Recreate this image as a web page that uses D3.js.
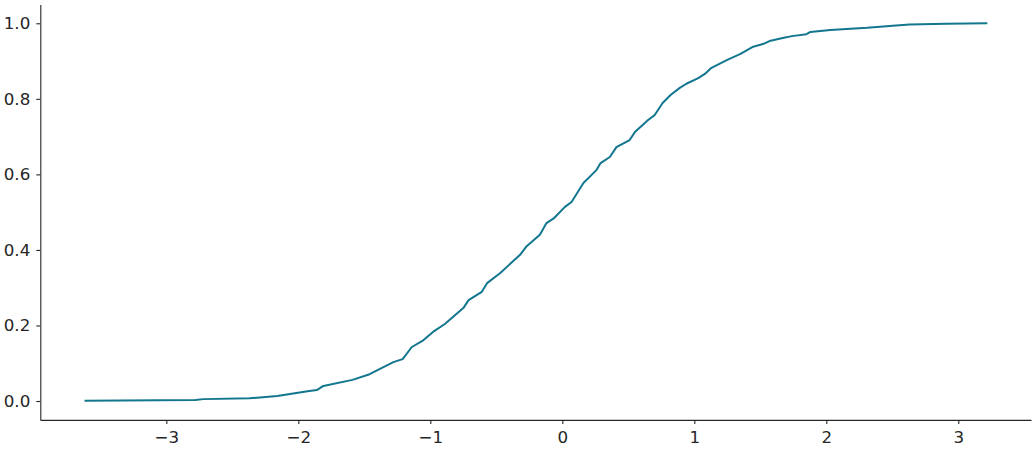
<!DOCTYPE html>
<html>
<head>
<meta charset="utf-8">
<script src="https://cdn.jsdelivr.net/npm/d3@7"></script>
<style>
  html, body { margin: 0; padding: 0; background: #ffffff; }
  svg { display: block; }
  .tick text { font-family: "DejaVu Sans", sans-serif; font-size: 16.7px; fill: #262626; }
</style>
</head>
<body>
<svg id="chart" width="1035" height="450"></svg>
<script>
// ECDF knots (value, cumulative proportion)
const sampleValues = [-3.62, -2.78, -2.72, -2.37, -2.16, -1.93, -1.86, -1.81, -1.59, -1.46,
  -1.28, -1.21, -1.14, -1.06, -0.98, -0.89, -0.75, -0.71, -0.61, -0.57,
  -0.47, -0.38, -0.32, -0.27, -0.17, -0.12, -0.06, 0.02, 0.07, 0.16,
  0.26, 0.29, 0.36, 0.41, 0.51, 0.55, 0.65, 0.70, 0.76, 0.82,
  0.89, 0.94, 1.03, 1.08, 1.13, 1.25, 1.35, 1.44, 1.52, 1.57,
  1.67, 1.74, 1.85, 1.88, 2.03, 2.31, 2.48, 2.63, 2.91, 3.22];
const proportions = [0.001, 0.003, 0.005, 0.007, 0.013, 0.026, 0.029, 0.040, 0.056, 0.071,
  0.103, 0.111, 0.143, 0.159, 0.183, 0.204, 0.246, 0.267, 0.289, 0.312,
  0.339, 0.368, 0.387, 0.410, 0.440, 0.471, 0.485, 0.514, 0.527, 0.577,
  0.612, 0.630, 0.646, 0.672, 0.691, 0.712, 0.744, 0.757, 0.789, 0.810,
  0.829, 0.840, 0.855, 0.866, 0.882, 0.903, 0.919, 0.937, 0.945, 0.953,
  0.961, 0.966, 0.971, 0.977, 0.982, 0.988, 0.993, 0.997, 0.999, 1.000];
const xTicks = [-3, -2, -1, 0, 1, 2, 3];
const yTicks = [0.0, 0.2, 0.4, 0.6, 0.8, 1.0];

(function () {
  const svg = d3.select("#chart");
  const mLeft = 40.3, mRight = 1031, mTop = 4.4, mBottom = 419.9;

  const x = d3.scaleLinear().domain([-3.955, 3.551]).range([mLeft, mRight]);
  const y = d3.scaleLinear().domain([-0.05, 1.05]).range([mBottom, mTop]);

  const data = sampleValues.map((v, i) => ({ x: v, y: proportions[i] }));

  const line = d3.line().x(d => x(d.x)).y(d => y(d.y)).curve(d3.curveLinear);

  svg.append("path")
    .datum(data)
    .attr("fill", "none")
    .attr("stroke", "#13768f")
    .attr("stroke-width", 2)
    .attr("stroke-linejoin", "round")
    .attr("d", line);

  const fmtX = d3.format("d");
  const xAxis = d3.axisBottom(x).tickValues(xTicks).tickFormat(d => fmtX(d).replace("-", "\u2212"))
    .tickSizeInner(4).tickSizeOuter(0).tickPadding(7);
  const gx = svg.append("g").attr("transform", `translate(0,${mBottom})`).call(xAxis);

  const yAxis = d3.axisLeft(y).tickValues(yTicks).tickFormat(d3.format(".1f"))
    .tickSizeInner(4).tickSizeOuter(0).tickPadding(6);
  const gy = svg.append("g").attr("transform", `translate(${mLeft},0)`).call(yAxis);

  [gx, gy].forEach(g => {
    g.select(".domain").attr("stroke", "#262626").attr("stroke-width", 1.1);
    g.selectAll(".tick line").attr("stroke", "#262626").attr("stroke-width", 1.1);
    g.attr("font-family", null).attr("font-size", null);
  });
})();
</script>
</body>
</html>
